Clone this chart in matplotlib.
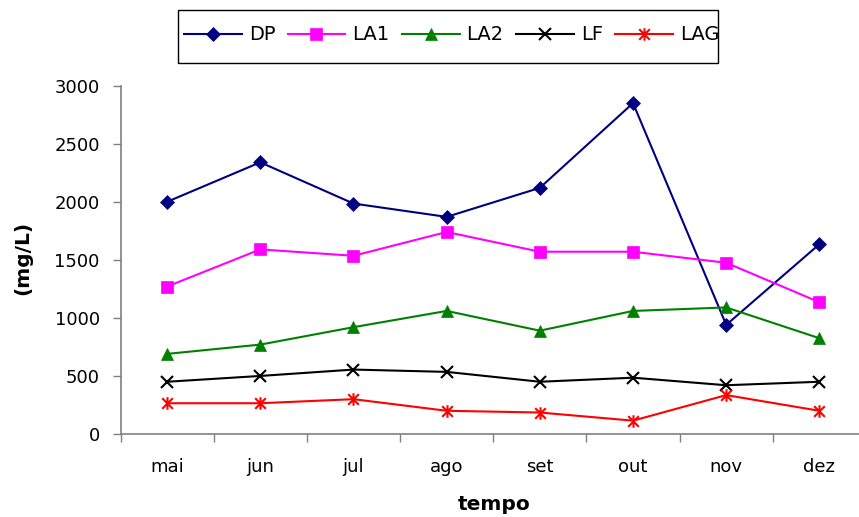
import matplotlib
matplotlib.use("Agg")
import matplotlib.pyplot as plt
from matplotlib.path import Path
from matplotlib.patches import Rectangle
from matplotlib.ticker import FixedLocator, NullFormatter

plt.rcParams["font.family"] = ["DejaVu Sans"]

months = ["mai", "jun", "jul", "ago", "set", "out", "nov", "dez"]
dp = [2000, 2340, 1985, 1870, 2120, 2850, 940, 1635]
la1 = [1270, 1590, 1535, 1740, 1570, 1570, 1475, 1135]
la2 = [690, 770, 920, 1060, 890, 1060, 1090, 825]
lf = [450, 500, 555, 535, 450, 485, 420, 450]
lag = [265, 265, 300, 200, 185, 115, 335, 200]
y_ticks = [0, 500, 1000, 1500, 2000, 2500, 3000]

# asterisk marker: vertical stroke plus two diagonals
star = Path(
    [(0, -1), (0, 1), (-0.85, -0.85), (0.85, 0.85), (-0.85, 0.85), (0.85, -0.85)],
    [Path.MOVETO, Path.LINETO, Path.MOVETO, Path.LINETO, Path.MOVETO, Path.LINETO],
)

W, H = 859, 517
fig = plt.figure(figsize=(W / 100, H / 100), dpi=100)
ax = fig.add_axes([120.5 / W, 83 / H, 745.5 / W, 348.3 / H])

x = list(range(len(months)))
series = [
    ("DP", dp, "#000080", "D", 6.8, "#000080"),
    ("LA1", la1, "#FF00FF", "s", 8.2, "#FF00FF"),
    ("LA2", la2, "#008000", "^", 9.2, "#008000"),
    ("LF", lf, "#000000", "x", 8.6, "none"),
    ("LAG", lag, "#FF0000", star, 9.0, "none"),
]
handles = []
for name, vals, col, mk, ms, fc in series:
    h, = ax.plot(x, vals, color=col, lw=1.5, marker=mk, markersize=ms,
                 markerfacecolor=fc, markeredgecolor=col,
                 markeredgewidth=1.5 if fc == "none" else 0.5, label=name)
    handles.append(h)

ax.set_xlim(-0.5, len(months) - 0.5)
ax.set_ylim(0, 3000)
ax.set_yticks(y_ticks)
ax.set_yticklabels([str(v) for v in y_ticks])

ax.xaxis.set_major_locator(FixedLocator([i - 0.5 for i in range(len(months) + 1)]))
ax.xaxis.set_major_formatter(NullFormatter())
ax.set_xticks(x, minor=True)
ax.set_xticklabels(months, minor=True)
ax.tick_params(axis="x", which="minor", length=0, pad=17, labelsize=13)
ax.tick_params(axis="x", which="major", length=6, width=1, color="#808080", direction="out")
ax.tick_params(axis="y", length=6, width=1, color="#808080", direction="out", pad=9, labelsize=13)

for side in ("top", "right"):
    ax.spines[side].set_visible(False)
for side in ("left", "bottom"):
    ax.spines[side].set_color("#808080")
    ax.spines[side].set_linewidth(1.2)

fig.text(23 / W, 1 - 258 / H, "(mg/L)", rotation=90, ha="center", va="center",
         fontsize=14.5, fontweight="bold")
fig.text(494 / W, 1 - 504 / H, "tempo", ha="center", va="center",
         fontsize=14.5, fontweight="bold")

# legend row with a plain rectangular frame around it
leg = fig.legend(handles=handles, loc="center left",
                 bbox_to_anchor=(184 / W, 1 - 35 / H),
                 ncol=5, fontsize=14, frameon=False,
                 handlelength=2.98, handletextpad=0.36, columnspacing=0.62,
                 borderpad=0, borderaxespad=0)
fig.patches.append(Rectangle((178 / W, 1 - 63 / H), 540 / W, 53 / H,
                             transform=fig.transFigure, fill=False,
                             edgecolor="#000000", linewidth=1.0))

fig.savefig("out.png", dpi=100)
